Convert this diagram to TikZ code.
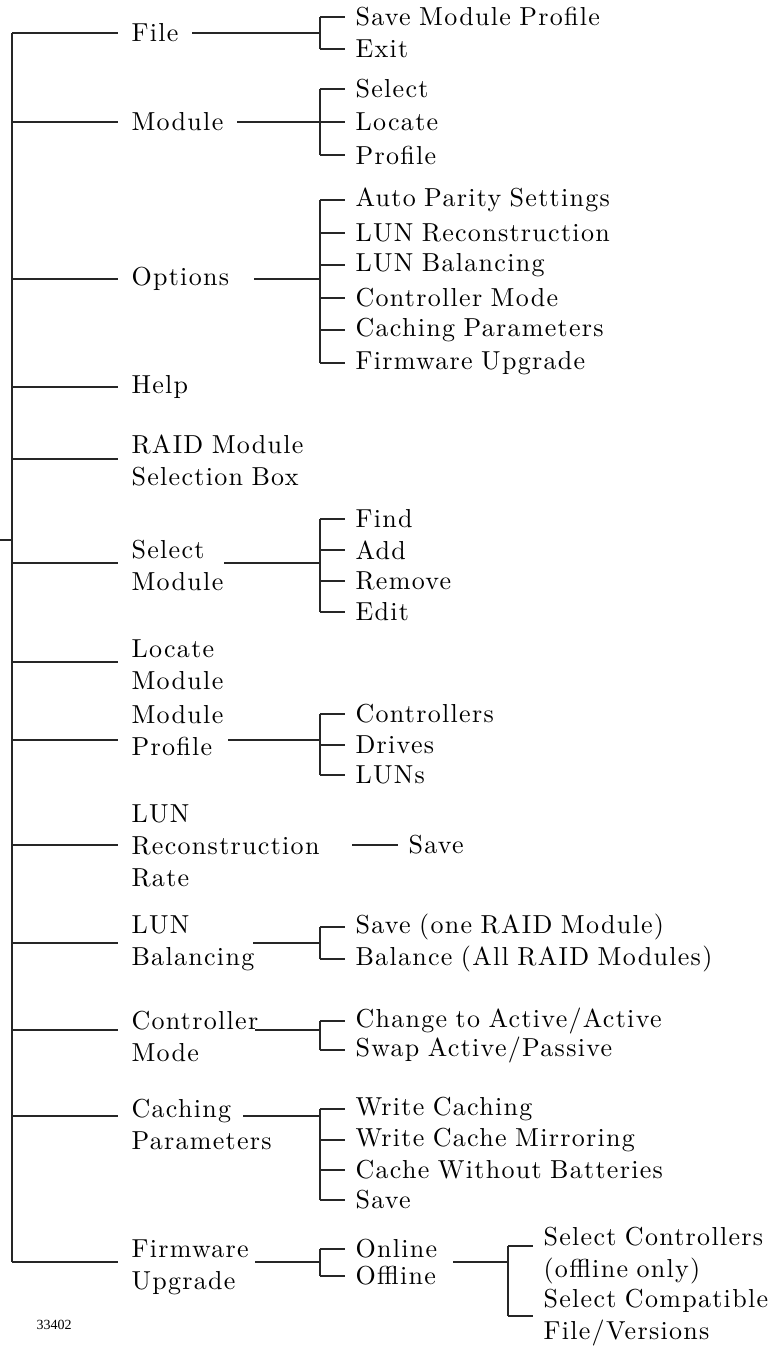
\documentclass[tikz,border=0pt]{standalone}
\usepackage{fontspec}
\newfontfamily\lblfont{lmroman10-regular.otf}[LetterSpace=5.0, WordSpace=0.85]
\newfontfamily\tagfont{Liberation Serif}
\begin{document}
\begin{tikzpicture}[x=0.5pt, y=-0.5pt, line width=0.55pt, draw=black!85,
	lbl/.style={anchor=west, inner xsep=6.5pt, inner ysep=0pt, align=left,
		font=\lblfont\fontsize{13}{16}\selectfont},
	sub/.style={lbl, inner xsep=5pt}]
	\useasboundingbox (0,0) rectangle (769,1346);

	\coordinate (r)   at (0,540);
	\coordinate (t1)  at (12,33);
	\coordinate (t2)  at (12,122);
	\coordinate (t3)  at (12,279);
	\coordinate (t4)  at (12,387);
	\coordinate (t5)  at (12,459);
	\coordinate (t6)  at (12,563);
	\coordinate (t7)  at (12,662);
	\coordinate (t8)  at (12,740);
	\coordinate (t9)  at (12,845);
	\coordinate (t10) at (12,943);
	\coordinate (t11) at (12,1030);
	\coordinate (t12) at (12,1116);
	\coordinate (t13) at (12,1262);

	\node[lbl] (1)  at (118,33)   {File};
	\node[lbl] (2)  at (118,122)  {Module};
	\node[lbl] (3)  at (118,279)  {Options};
	\node[lbl] (4)  at (118,387)  {Help};
	\node[lbl] (5)  at (118,460)  {RAID Module\\Selection Box};
	\node[lbl] (6)  at (118,565)  {Select\\Module};
	\node[lbl] (7)  at (118,665)  {Locate\\Module};
	\node[lbl] (8)  at (118,731)  {Module\\Profile};
	\node[lbl] (9)  at (118,846)  {LUN\\Reconstruction\\Rate};
	\node[lbl] (10) at (118,943)  {LUN\\Balancing};
	\node[lbl] (11) at (118,1036) {Controller\\Mode};
	\node[lbl] (12) at (118,1124) {Caching\\Parameters};
	\node[lbl] (13) at (118,1267) {Firmware\\Upgrade};

	\coordinate (s1)  at (192,33);
	\coordinate (s2)  at (237,122);
	\coordinate (s3)  at (254,279);
	\coordinate (s6)  at (224,563);
	\coordinate (s8)  at (228,740);
	\coordinate (s9)  at (352,845);
	\coordinate (s10) at (253,943);
	\coordinate (s11) at (255,1030);
	\coordinate (s12) at (243,1116);
	\coordinate (s13) at (255,1262);
	\coordinate (b1)  at (320,33);
	\coordinate (b2)  at (320,122);
	\coordinate (b3)  at (320,279);
	\coordinate (b6)  at (320,563);
	\coordinate (b8)  at (320,740);
	\coordinate (b10) at (320,943);
	\coordinate (b11) at (320,1030);
	\coordinate (b12) at (320,1116);
	\coordinate (b13) at (320,1262);

	\node[sub] (1-1)  at (345,17)   {Save Module Profile};
	\node[sub] (1-2)  at (345,49)   {Exit};
	\node[sub] (2-1)  at (345,89)   {Select};
	\node[sub] (2-2)  at (345,122)  {Locate};
	\node[sub] (2-3)  at (345,155)  {Profile};
	\node[sub] (3-1)  at (345,200)  {Auto Parity Settings};
	\node[sub] (3-2)  at (345,233)  {LUN Reconstruction};
	\node[sub] (3-3)  at (345,265)  {LUN Balancing};
	\node[sub] (3-4)  at (345,298)  {Controller Mode};
	\node[sub] (3-5)  at (345,330)  {Caching Parameters};
	\node[sub] (3-6)  at (345,363)  {Firmware Upgrade};
	\node[sub] (6-1)  at (345,519)  {Find};
	\node[sub] (6-2)  at (345,550)  {Add};
	\node[sub] (6-3)  at (345,581)  {Remove};
	\node[sub] (6-4)  at (345,612)  {Edit};
	\node[sub] (8-1)  at (345,714)  {Controllers};
	\node[sub] (8-2)  at (345,745)  {Drives};
	\node[sub] (8-3)  at (345,775)  {LUNs};
	\node[sub] (9-1)  at (398,845)  {Save};
	\node[sub] (10-1) at (345,927)  {Save (one RAID Module)};
	\node[sub] (10-2) at (345,959)  {Balance (All RAID Modules)};
	\node[sub] (11-1) at (345,1021) {Change to Active/Active};
	\node[sub] (11-2) at (345,1050) {Swap Active/Passive};
	\node[sub] (12-1) at (345,1109) {Write Caching};
	\node[sub] (12-2) at (345,1140) {Write Cache Mirroring};
	\node[sub] (12-3) at (345,1170) {Cache Without Batteries};
	\node[sub] (12-4) at (345,1200) {Save};
	\node[sub] (13-1) at (345,1249) {Online};
	\node[sub] (13-2) at (345,1276) {Offline};

	\coordinate (s14) at (453,1262);
	\coordinate (b14) at (508,1262);
	\coordinate (k1)  at (508,1246);
	\coordinate (k2)  at (508,1316);
	\node[sub] (14-1) at (533,1256) {Select Controllers\\(offline only)};
	\node[sub] (14-2) at (533,1318) {Select Compatible\\File/Versions};

	\node[anchor=west, inner sep=0pt, font=\tagfont\fontsize{7}{8}\selectfont] (tag) at (36,1325) {33402};

	\path [-] (t1) edge (t13);
	\path [-] (r) edge (r -| t1);
	\path [-] (t1)  edge (t1 -| 1.west);
	\path [-] (t2)  edge (t2 -| 2.west);
	\path [-] (t3)  edge (t3 -| 3.west);
	\path [-] (t4)  edge (t4 -| 4.west);
	\path [-] (t5)  edge (t5 -| 5.west);
	\path [-] (t6)  edge (t6 -| 6.west);
	\path [-] (t7)  edge (t7 -| 7.west);
	\path [-] (t8)  edge (t8 -| 8.west);
	\path [-] (t9)  edge (t9 -| 9.west);
	\path [-] (t10) edge (t10 -| 10.west);
	\path [-] (t11) edge (t11 -| 11.west);
	\path [-] (t12) edge (t12 -| 12.west);
	\path [-] (t13) edge (t13 -| 13.west);

	\path [-] (s1)  edge (b1);
	\path [-] (s2)  edge (b2);
	\path [-] (s3)  edge (b3);
	\path [-] (s6)  edge (b6);
	\path [-] (s8)  edge (b8);
	\path [-] (s9)  edge (9-1.west);
	\path [-] (s10) edge (b10);
	\path [-] (s11) edge (b11);
	\path [-] (s12) edge (b12);
	\path [-] (s13) edge (b13);
	\path [-] (s14) edge (b14);

	\path [-] (1-1.west -| b1)   edge (1-2.west -| b1);
	\path [-] (2-1.west -| b2)   edge (2-3.west -| b2);
	\path [-] (3-1.west -| b3)   edge (3-6.west -| b3);
	\path [-] (6-1.west -| b6)   edge (6-4.west -| b6);
	\path [-] (8-1.west -| b8)   edge (8-3.west -| b8);
	\path [-] (10-1.west -| b10) edge (10-2.west -| b10);
	\path [-] (11-1.west -| b11) edge (11-2.west -| b11);
	\path [-] (12-1.west -| b12) edge (12-4.west -| b12);
	\path [-] (13-1.west -| b13) edge (13-2.west -| b13);
	\path [-] (k1) edge (k2);

	\path [-] (1-1.west -| b1)   edge (1-1.west);
	\path [-] (1-2.west -| b1)   edge (1-2.west);
	\path [-] (2-1.west -| b2)   edge (2-1.west);
	\path [-] (2-2.west -| b2)   edge (2-2.west);
	\path [-] (2-3.west -| b2)   edge (2-3.west);
	\path [-] (3-1.west -| b3)   edge (3-1.west);
	\path [-] (3-2.west -| b3)   edge (3-2.west);
	\path [-] (3-3.west -| b3)   edge (3-3.west);
	\path [-] (3-4.west -| b3)   edge (3-4.west);
	\path [-] (3-5.west -| b3)   edge (3-5.west);
	\path [-] (3-6.west -| b3)   edge (3-6.west);
	\path [-] (6-1.west -| b6)   edge (6-1.west);
	\path [-] (6-2.west -| b6)   edge (6-2.west);
	\path [-] (6-3.west -| b6)   edge (6-3.west);
	\path [-] (6-4.west -| b6)   edge (6-4.west);
	\path [-] (8-1.west -| b8)   edge (8-1.west);
	\path [-] (8-2.west -| b8)   edge (8-2.west);
	\path [-] (8-3.west -| b8)   edge (8-3.west);
	\path [-] (10-1.west -| b10) edge (10-1.west);
	\path [-] (10-2.west -| b10) edge (10-2.west);
	\path [-] (11-1.west -| b11) edge (11-1.west);
	\path [-] (11-2.west -| b11) edge (11-2.west);
	\path [-] (12-1.west -| b12) edge (12-1.west);
	\path [-] (12-2.west -| b12) edge (12-2.west);
	\path [-] (12-3.west -| b12) edge (12-3.west);
	\path [-] (12-4.west -| b12) edge (12-4.west);
	\path [-] (13-1.west -| b13) edge (13-1.west);
	\path [-] (13-2.west -| b13) edge (13-2.west);
	\path [-] (k1) edge (k1 -| 14-1.west);
	\path [-] (k2) edge (k2 -| 14-2.west);
\end{tikzpicture}
\end{document}
